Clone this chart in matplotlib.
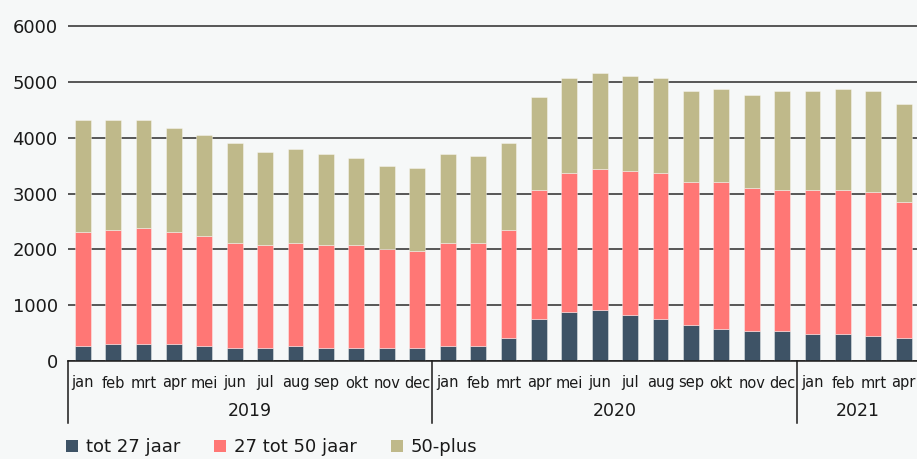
import numpy as np
import matplotlib.pyplot as plt
from matplotlib.patches import Patch

# months and years on the x axis
months = ['jan', 'feb', 'mrt', 'apr', 'mei', 'jun', 'jul', 'aug', 'sep', 'okt', 'nov', 'dec',
          'jan', 'feb', 'mrt', 'apr', 'mei', 'jun', 'jul', 'aug', 'sep', 'okt', 'nov', 'dec',
          'jan', 'feb', 'mrt', 'apr']
years = ['2019', '2020', '2021']
year_len = [12, 12, 4]

# young group, top of middle group, total height
young = [270, 300, 300, 300, 270, 230, 230, 270, 230, 230, 230, 230,
         270, 270, 420, 760, 870, 910, 830, 760, 640, 570, 530, 530,
         490, 490, 450, 420]
mid_top = [2310, 2350, 2390, 2310, 2240, 2120, 2080, 2120, 2080, 2080, 2010, 1970,
           2120, 2120, 2350, 3070, 3370, 3440, 3400, 3370, 3210, 3210, 3100, 3070,
           3070, 3070, 3030, 2840]
total = [4320, 4320, 4320, 4170, 4050, 3900, 3750, 3790, 3710, 3640, 3490, 3450,
         3710, 3670, 3900, 4730, 5070, 5150, 5100, 5070, 4840, 4880, 4770, 4840,
         4840, 4880, 4840, 4610]

young = np.array(young)
middle = np.array(mid_top) - young
older = np.array(total) - np.array(mid_top)

labels = ['tot 27 jaar', '27 tot 50 jaar', '50-plus']
colors = ['#3e5366', '#ff7775', '#bfb98a']
bg = '#f6f8f8'

W, H = 917, 459
fig = plt.figure(figsize=(W / 100, H / 100), dpi=100, facecolor=bg)

# axes placed in pixels: x axis at y=361, 1000 units = 55.83 px
px_per_unit = 55.83 / 1000
ymax = 6100
ax_h = ymax * px_per_unit
x0_px, x1_px = 67.5, 919
ax = fig.add_axes([x0_px / W, (H - 361) / H, (x1_px - x0_px) / W, ax_h / H])
ax.set_facecolor(bg)

x = np.arange(len(months))
w = 0.52
edge = (1, 1, 1, 0.45)
ax.bar(x, young, w, color=colors[0], edgecolor=edge, linewidth=0.6, zorder=3)
ax.bar(x, middle, w, bottom=young, color=colors[1], edgecolor=edge, linewidth=0.6, zorder=3)
ax.bar(x, older, w, bottom=young + middle, color=colors[2], edgecolor=edge, linewidth=0.6, zorder=3)

ax.set_xlim(-0.5, len(months) - 0.5)
ax.set_ylim(0, ymax)
ax.set_yticks(range(0, 6001, 1000))
ax.yaxis.grid(True, color='#2b2b2b', linewidth=1.1, zorder=0)
ax.set_axisbelow(True)
ax.tick_params(axis='y', length=0, pad=7, labelsize=13, labelcolor='#1a1a1a')
ax.set_xticks([])
for s in ['top', 'right', 'left']:
    ax.spines[s].set_visible(False)
ax.spines['bottom'].set_color('#1a1a1a')
ax.spines['bottom'].set_linewidth(1.1)
ax.spines['bottom'].set_zorder(4)

# month labels, year labels and separators under the axis
tr = ax.get_xaxis_transform()
for i, m in enumerate(months):
    ax.text(i, -22 / ax_h, m, transform=tr, ha='center', va='center',
            fontsize=10.5, color='#1a1a1a')
start = 0
seps = [-0.5]
for yr, n in zip(years, year_len):
    mid = start + (n - 1) / 2
    ax.text(mid, -50 / ax_h, yr, transform=tr, ha='center', va='center',
            fontsize=12.5, color='#1a1a1a')
    start += n
    seps.append(start - 0.5)
for sx in seps[:-1]:
    ax.plot([sx, sx], [0, -62 / ax_h], transform=tr, color='#1a1a1a',
            linewidth=1.1, clip_on=False)

handles = [Patch(facecolor=c, edgecolor='none') for c in colors]
fig.legend(handles, labels, loc='center left', bbox_to_anchor=(66 / W, 11.5 / H),
           ncol=3, frameon=False, fontsize=13, borderpad=0, borderaxespad=0,
           handlelength=0.68, handleheight=0.68, handletextpad=0.4,
           columnspacing=1.9, labelcolor='#1a1a1a')

plt.savefig('out.png', dpi=100, facecolor=bg)
